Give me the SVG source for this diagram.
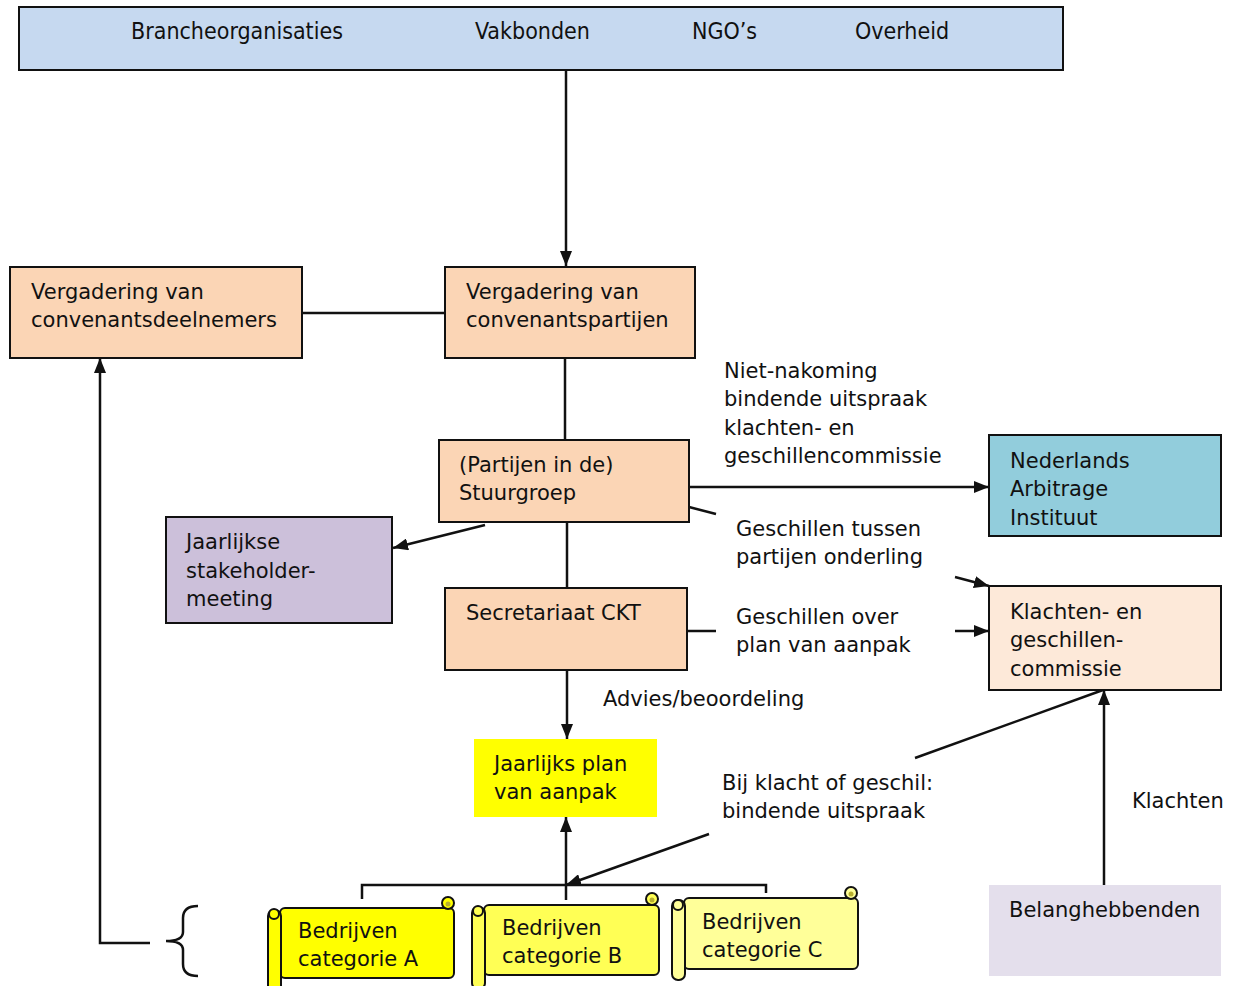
<svg xmlns="http://www.w3.org/2000/svg" width="1236" height="986" viewBox="0 0 1236 986">
<defs>
<style>
text{font-family:"DejaVu Sans","Liberation Sans",sans-serif;font-size:21px;fill:#111}
.top{font-family:"DejaVu Sans Condensed","DejaVu Sans",sans-serif;font-stretch:condensed;font-size:23px}
.box{stroke:#111;stroke-width:2}
.ln{stroke:#111;stroke-width:2.5;fill:none}
.ar{stroke:#111;stroke-width:2.5;fill:none;marker-end:url(#ah)}
.sc{stroke:#111;stroke-width:2}
</style>
<marker id="ah" viewBox="0 0 15 12" refX="15" refY="6" markerWidth="15" markerHeight="12" markerUnits="userSpaceOnUse" orient="auto">
<path d="M0,0 L15,6 L0,12 Z" fill="#111"/>
</marker>
</defs>
<rect width="1236" height="986" fill="#fff"/>

<g id="connectors">
<line class="ar" x1="566" y1="68" x2="566" y2="266"/>
<line class="ln" x1="302" y1="313" x2="445" y2="313"/>
<line class="ln" x1="565" y1="358" x2="565" y2="440"/>
<line class="ar" x1="689" y1="487" x2="989" y2="487"/>
<line class="ln" x1="689" y1="507" x2="716" y2="514"/>
<line class="ar" x1="955" y1="577" x2="989" y2="586"/>
<line class="ar" x1="485" y1="525" x2="393" y2="548"/>
<line class="ln" x1="567" y1="522" x2="567" y2="588"/>
<line class="ln" x1="687" y1="631" x2="716" y2="631"/>
<line class="ar" x1="955" y1="631" x2="989" y2="631"/>
<line class="ar" x1="567" y1="670" x2="567" y2="739"/>
<line class="ar" x1="566" y1="900" x2="566" y2="817"/>
<line class="ln" x1="1103" y1="690" x2="915" y2="758"/>
<line class="ar" x1="709" y1="834" x2="566" y2="885"/>
<line class="ar" x1="1104" y1="885" x2="1104" y2="690"/>
<polyline class="ln" points="362,899 362,885 766,885 766,893"/>
<polyline class="ar" points="150,943 100,943 100,358"/>
<path class="ln" d="M198,906 Q183,906 183,918 L183,932 Q183,941 166,941 Q183,941 183,950 L183,964 Q183,976 198,976"/>
</g>

<g id="top">
<rect class="box" x="19" y="7" width="1044" height="63" fill="#c6d9f0"/>
<text class="top" x="131" y="39">Brancheorganisaties</text>
<text class="top" x="475" y="39">Vakbonden</text>
<text class="top" x="692" y="39">NGO’s</text>
<text class="top" x="855" y="39">Overheid</text>
</g>

<g id="deelnemers">
<rect class="box" x="10" y="267" width="292" height="91" fill="#fbd5b5"/>
<text x="31" y="299">Vergadering van</text>
<text x="31" y="327">convenantsdeelnemers</text>
</g>

<g id="partijen">
<rect class="box" x="445" y="267" width="250" height="91" fill="#fbd5b5"/>
<text x="466" y="299">Vergadering van</text>
<text x="466" y="327">convenantspartijen</text>
</g>

<g id="stuurgroep">
<rect class="box" x="439" y="440" width="250" height="82" fill="#fbd5b5"/>
<text x="459" y="472">(Partijen in de)</text>
<text x="459" y="500">Stuurgroep</text>
</g>

<g id="label-nietnakoming">
<text x="724" y="378">Niet-nakoming</text>
<text x="724" y="406">bindende uitspraak</text>
<text x="724" y="435">klachten- en</text>
<text x="724" y="463">geschillencommissie</text>
</g>

<g id="nai">
<rect class="box" x="989" y="435" width="232" height="101" fill="#92cddc"/>
<text x="1010" y="468">Nederlands</text>
<text x="1010" y="496">Arbitrage</text>
<text x="1010" y="525">Instituut</text>
</g>

<g id="stakeholder">
<rect class="box" x="166" y="517" width="226" height="106" fill="#ccc0da"/>
<text x="186" y="549">Jaarlijkse</text>
<text x="186" y="578">stakeholder-</text>
<text x="186" y="606">meeting</text>
</g>

<g id="label-tussen">
<text x="736" y="536">Geschillen tussen</text>
<text x="736" y="564">partijen onderling</text>
</g>

<g id="secretariaat">
<rect class="box" x="445" y="588" width="242" height="82" fill="#fbd5b5"/>
<text x="466" y="620">Secretariaat CKT</text>
</g>

<g id="label-over">
<text x="736" y="624">Geschillen over</text>
<text x="736" y="652">plan van aanpak</text>
</g>

<g id="kgc">
<rect class="box" x="989" y="586" width="232" height="104" fill="#fde9d9"/>
<text x="1010" y="619">Klachten- en</text>
<text x="1010" y="647">geschillen-</text>
<text x="1010" y="676">commissie</text>
</g>

<g id="label-advies">
<text x="603" y="706">Advies/beoordeling</text>
</g>

<g id="plan">
<rect x="474" y="739" width="183" height="78" fill="#ffff00"/>
<text x="494" y="771">Jaarlijks plan</text>
<text x="494" y="799">van aanpak</text>
</g>

<g id="label-bij">
<text x="722" y="790">Bij klacht of geschil:</text>
<text x="722" y="818">bindende uitspraak</text>
</g>

<g id="label-klachten">
<text x="1132" y="808">Klachten</text>
</g>

<g id="belanghebbenden">
<rect x="989" y="885" width="232" height="91" fill="#e4dfec"/>
<text x="1009" y="917">Belanghebbenden</text>
</g>

<g id="scroll-a">
<rect class="sc" x="280" y="908" width="174" height="70" rx="5" fill="#ffff00"/>
<circle class="sc" cx="448" cy="903" r="6" fill="#ffff00"/>
<circle cx="448" cy="904" r="2.5" fill="#b8b030"/>
<rect class="sc" x="268" y="910" width="13" height="82" rx="6" fill="#ffff00"/>
<circle class="sc" cx="274" cy="914" r="5" fill="#ffff00"/>
<text x="298" y="938">Bedrijven</text>
<text x="298" y="966">categorie A</text>
</g>

<g id="scroll-b">
<rect class="sc" x="484" y="905" width="175" height="70" rx="5" fill="#ffff55"/>
<circle class="sc" cx="652" cy="899" r="6" fill="#ffff55"/>
<circle cx="652" cy="900" r="2.5" fill="#b8b030"/>
<rect class="sc" x="472" y="907" width="13" height="82" rx="6" fill="#ffff55"/>
<circle class="sc" cx="478" cy="911" r="5" fill="#ffff55"/>
<text x="502" y="935">Bedrijven</text>
<text x="502" y="963">categorie B</text>
</g>

<g id="scroll-c">
<rect class="sc" x="684" y="898" width="174" height="71" rx="5" fill="#ffff99"/>
<circle class="sc" cx="851" cy="893" r="6" fill="#ffff99"/>
<circle cx="851" cy="894" r="2.5" fill="#b8b030"/>
<rect class="sc" x="672" y="900" width="13" height="80" rx="6" fill="#ffff99"/>
<circle class="sc" cx="678" cy="905" r="5" fill="#ffff99"/>
<text x="702" y="929">Bedrijven</text>
<text x="702" y="957">categorie C</text>
</g>
</svg>
